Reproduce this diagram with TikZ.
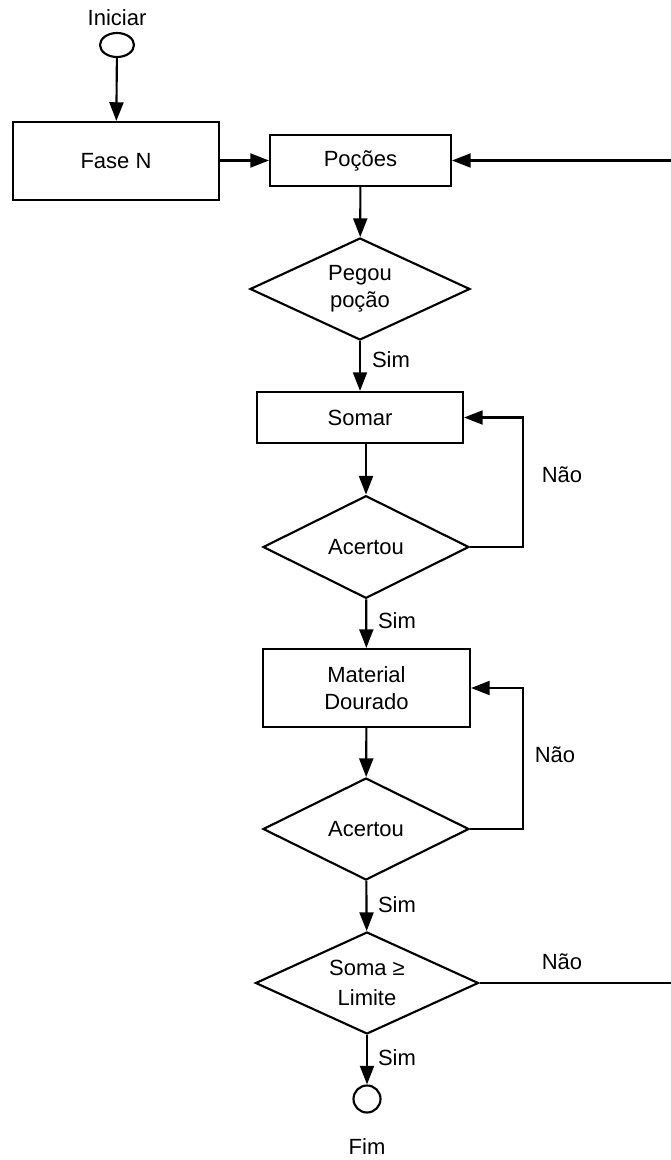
\documentclass[tikz,border=0pt]{standalone}
\usepackage{fontspec}
\setmainfont{Liberation Sans}
\usetikzlibrary{shapes.geometric,arrows.meta}
\begin{document}
\begin{tikzpicture}[x=0.75pt,y=-0.75pt,
  font=\fontsize{16.5}{20}\selectfont,
  line width=1.6pt,
  box/.style={draw, rectangle, inner sep=0pt, align=center},
  dec/.style={draw, diamond, aspect=2, inner sep=0pt, align=center},
  term/.style={draw, ellipse, inner sep=0pt},
  arr/.style={-{Triangle[length=14pt,width=10.5pt]}},
  lbl/.style={inner sep=0pt}]
\useasboundingbox (0,0) rectangle (671,1160);

% nodes
\node[lbl] (tini) at (117,18) {Iniciar};
\node[term, minimum width=25.5pt, minimum height=18pt] (start) at (117,45) {};
\node[box, minimum width=154.5pt, minimum height=58.5pt] (fase) at (116,161) {Fase N};
\node[box, minimum width=135.75pt, minimum height=38.25pt] (pocoes) at (360.5,160.5) {Poções};
\node[dec, minimum width=165pt, minimum height=76.5pt] (pegou) at (360,289) {Pegou\\poção};
\node[box, minimum width=154.5pt, minimum height=38.25pt] (somar) at (360,417.5) {Somar};
\node[dec, minimum width=154.5pt, minimum height=77pt] (ac1) at (366,547) {Acertou};
\node[box, minimum width=155.25pt, minimum height=58.5pt] (mat) at (366.5,688) {Material\\Dourado};
\node[dec, minimum width=154.5pt, minimum height=76.5pt] (ac2) at (366,829) {Acertou};
\node[dec, minimum width=167.25pt, minimum height=76.5pt] (soma) at (367,983) {Soma ≥\\[2pt]Limite};
\node[term, minimum width=20.25pt, minimum height=20.25pt] (fim) at (367,1099) {};
\node[lbl] (tfim) at (367,1147) {Fim};

% helper coordinates
\coordinate (loopx) at (523,0);
\coordinate (rend) at (671,983);
\coordinate (rtop) at (671,160.5);

% connectors
\draw[arr] (start) -- (fase);
\draw[arr] (fase.east |- pocoes.west) -- (pocoes.west);
\draw[arr] (rtop) -- (pocoes.east);
\draw[arr] (pocoes) -- (pegou);
\draw[arr] (pegou) -- (somar);
\draw[arr] (somar.south -| ac1.north) -- (ac1.north);
\draw[arr] (ac1.east) -- (ac1.east -| loopx) |- (somar.east);
\draw[arr] (ac1) -- (mat);
\draw[arr] (mat) -- (ac2);
\draw[arr] (ac2.east) -- (ac2.east -| loopx) |- (mat.east);
\draw[arr] (ac2) -- (soma);
\draw (soma.east) -- (rend);
\draw[arr] (soma) -- (fim);

% labels
\node[lbl] (s1) at (391,360) {Sim};
\node[lbl] (n1) at (562,475) {Não};
\node[lbl] (s2) at (397,621) {Sim};
\node[lbl] (n2) at (555,755) {Não};
\node[lbl] (s3) at (397,905) {Sim};
\node[lbl] (n3) at (562,962) {Não};
\node[lbl] (s4) at (397,1058) {Sim};
\end{tikzpicture}
\end{document}
